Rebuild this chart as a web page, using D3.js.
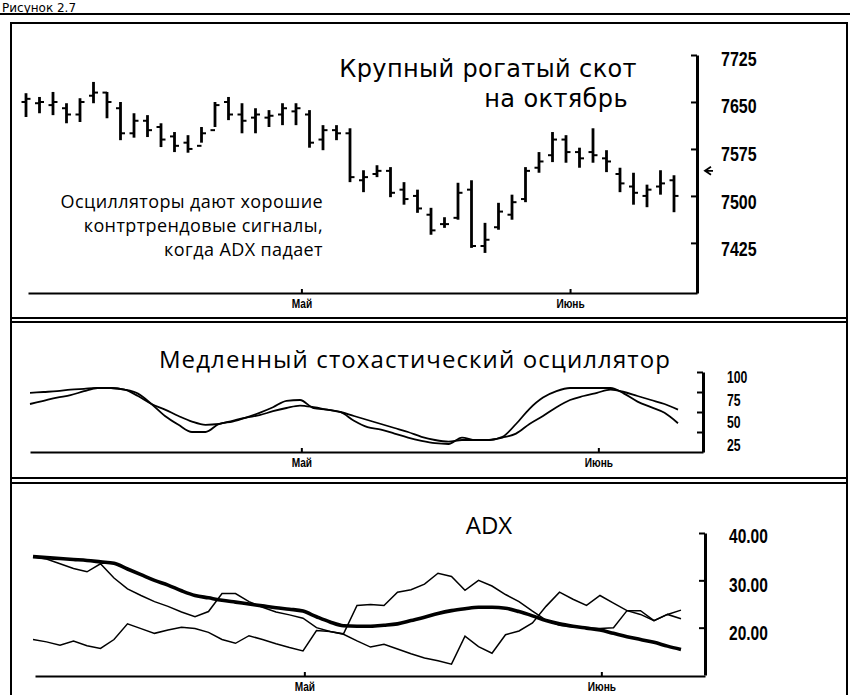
<!DOCTYPE html>
<html>
<head>
<meta charset="utf-8">
<script src="https://cdn.jsdelivr.net/npm/d3@7/dist/d3.min.js"></script>
<style>
body { margin: 0; background: #fff; }
svg { display: block; }
.title { font-family: "Open Sans", "Noto Sans", sans-serif; fill: #000; }
.num { font-family: "Liberation Sans", Arial, sans-serif; font-weight: bold; }
</style>
</head>
<body>
<div id="chart"></div>
<script>
// price bars (one per trading day)
var highs  = [7664,7658,7666,7648,7656,7682,7666,7650,7632,7629,7616,7602,7597,7610,7650,7658,7648,7640,7637,7648,7648,7637,7613,7613,7608,7541,7549,7546,7522,7510,7481,7466,7521,7525,7457,7489,7502,7546,7570,7602,7597,7577,7608,7573,7545,7537,7518,7541,7533];
var lows   = [7626,7632,7629,7616,7618,7648,7624,7589,7593,7594,7578,7570,7569,7585,7610,7621,7600,7600,7610,7613,7613,7577,7573,7589,7522,7506,7530,7498,7486,7473,7438,7449,7462,7417,7409,7446,7462,7490,7537,7554,7553,7545,7553,7538,7506,7486,7482,7502,7474];
var opens  = [7650,7648,7645,7640,7630,7660,7665,7640,7600,7620,7610,7595,7585,7580,7605,7650,7630,7625,7625,7630,7635,7630,7590,7605,7600,7525,7535,7540,7510,7500,7470,7455,7465,7510,7420,7450,7470,7495,7545,7565,7590,7570,7570,7560,7535,7515,7500,7515,7525];
var closes = [7655,7650,7650,7630,7650,7665,7650,7600,7620,7605,7590,7580,7575,7600,7645,7630,7620,7630,7628,7640,7640,7585,7605,7600,7530,7530,7540,7505,7495,7480,7445,7455,7505,7420,7430,7475,7490,7540,7555,7590,7570,7560,7565,7555,7520,7505,7510,7520,7500];
var priceTicks = [7425, 7500, 7575, 7650, 7725];
var lastPrice = 7540;

// slow stochastic
var stochK = [60,64,68,71,76,80,80,78,73,60,45,34,25,25,35,38,43,49,56,64,65,55,53,50,39,31,28,23,18,14,11,10,18,15,15,19,35,54,68,76,80,80,80,80,73,63,56,49,36];
var stochD = [74,75,76,78,79,80,80,78,70,60,53,45,38,34,35,39,43,46,51,55,58,56,53,50,45,40,35,30,25,19,15,13,15,15,15,18,23,35,45,56,65,70,74,78,75,70,65,60,53];
var stochTicks = [25, 50, 75, 100];

// ADX and directional lines
var adx     = [35.0,34.8,34.6,34.4,34.2,33.9,33.6,32.4,31.2,30.0,29.0,27.8,26.8,26.3,25.8,25.4,25.0,24.6,24.2,23.9,23.5,22.3,21.2,20.4,20.3,20.3,20.5,20.8,21.5,22.2,23.0,23.6,24.0,24.3,24.3,24.1,23.4,22.5,21.5,20.8,20.3,19.9,19.5,18.8,18.1,17.5,16.9,16.1,15.4];
var diMinus = [35.0,34.5,33.5,32.5,31.8,33.5,30.5,28.2,26.8,25.5,24.5,23.3,22.3,23.4,27.2,27.2,25.5,24.3,23.3,22.7,22.0,20.0,19.2,18.6,17.2,15.9,16.5,15.5,14.5,13.6,13.0,12.3,18.2,16.0,14.6,18.5,19.3,21.0,24.5,27.5,26.0,24.7,26.8,25.2,23.6,22.8,21.5,22.8,21.9];
var diPlus  = [17.5,17.0,16.3,17.2,16.2,15.6,17.5,20.8,19.8,18.8,19.5,20.1,19.8,19.0,17.5,16.7,18.3,17.5,16.6,15.8,15.1,19.4,19.2,18.7,24.7,24.9,24.7,27.5,28.0,29.2,31.5,30.8,27.9,30.0,28.8,27.0,25.5,23.5,21.6,20.5,20.2,20.0,19.8,20.0,23.6,23.6,21.5,22.8,23.7];
var adxTicks = [20, 30, 40];

// month labels, placed by bar index in each panel
var monthNames = ["Май", "Июнь"];
var priceMonthIdx = [20.4, 40.3];
var stochMonthIdx = [20.1, 42.1];
var adxMonthIdx   = [20.1, 42.1];

var W = 850, H = 695;
var svg = d3.select("#chart").append("svg")
    .attr("width", W)
    .attr("height", H);

// page header and frame
svg.append("text")
    .attr("x", 2).attr("y", 11.5)
    .style("font-family", "'DejaVu Sans', sans-serif")
    .style("font-size", "12px")
    .text("Рисунок 2.7");
svg.append("line").attr("x1", 0).attr("x2", W).attr("y1", 14).attr("y2", 14)
    .attr("stroke", "#000").attr("stroke-width", 2);
svg.append("path")
    .attr("d", "M11,700V23H847V700")
    .attr("fill", "none").attr("stroke", "#000").attr("stroke-width", 2);

// double separator lines between panels
[318, 322, 478, 483].forEach(function (yy) {
    svg.append("line").attr("x1", 11).attr("x2", 847).attr("y1", yy).attr("y2", yy)
        .attr("stroke", "#000").attr("stroke-width", 2);
});

var idx = d3.range(highs.length);

function bottomAxis(x, left, right, yPos, monthIdx) {
    var xa = x.copy().domain([x.invert(left), x.invert(right)]).range([left, right]);
    var g = svg.append("g")
        .attr("transform", "translate(0," + yPos + ")")
        .call(d3.axisBottom(xa)
            .tickValues(monthIdx)
            .tickFormat(function (d, i) { return monthNames[i]; })
            .tickSizeInner(-4).tickSizeOuter(0).tickPadding(6));
    g.select(".domain").attr("stroke-width", 2);
    g.selectAll(".tick line").attr("stroke-width", 2);
    g.selectAll(".tick text")
        .attr("class", "num")
        .style("font-size", "13px")
        .attr("fill", "#000")
        .attr("transform", "scale(0.78,1)");
}

// labels of these scans sit a little below their ticks, more so lower down
function rightAxis(y, xPos, ticks, fmt, size, sx, shift, step) {
    var g = svg.append("g")
        .attr("transform", "translate(" + xPos + ",0)")
        .call(d3.axisRight(y)
            .tickValues(ticks)
            .tickFormat(fmt)
            .tickSizeInner(-6).tickSizeOuter(0));
    g.select(".domain").attr("stroke-width", 3);
    g.selectAll(".tick line").attr("stroke-width", 2);
    var n = ticks.length;
    g.selectAll(".tick text")
        .attr("class", "num")
        .style("font-size", size + "px")
        .attr("fill", "#000")
        .attr("x", 0)
        .attr("transform", function (d, i) {
            return "translate(24," + (shift + (n - 1 - i) * step) + ") scale(" + sx + ",1)";
        });
}

// ---------- price panel ----------
var xP = d3.scaleLinear().domain([0, 48]).range([26, 674]);
var yP = d3.scaleLinear().domain([7345, 7725]).range([293, 55]);

var bars = svg.append("g").selectAll("g")
    .data(idx).enter().append("g");
bars.append("line")
    .attr("x1", function (i) { return xP(i); })
    .attr("x2", function (i) { return xP(i); })
    .attr("y1", function (i) { return yP(highs[i]); })
    .attr("y2", function (i) { return yP(lows[i]); })
    .attr("stroke", "#000").attr("stroke-width", 2.8);
bars.append("line")
    .attr("x1", function (i) { return xP(i) - 4.5; })
    .attr("x2", function (i) { return xP(i); })
    .attr("y1", function (i) { return yP(opens[i]); })
    .attr("y2", function (i) { return yP(opens[i]); })
    .attr("stroke", "#000").attr("stroke-width", 2);
bars.append("line")
    .attr("x1", function (i) { return xP(i); })
    .attr("x2", function (i) { return xP(i) + 4.5; })
    .attr("y1", function (i) { return yP(closes[i]); })
    .attr("y2", function (i) { return yP(closes[i]); })
    .attr("stroke", "#000").attr("stroke-width", 2);

bottomAxis(xP, 28, 697, 293, priceMonthIdx);
rightAxis(yP, 697, priceTicks, d3.format("d"), 20, 0.8, 4, 0.6);

// last-price arrow next to the axis
var lastY = yP(lastPrice);
svg.append("path")
    .attr("d", "M711," + (lastY - 4) + "L705," + lastY + "L711," + (lastY + 4) + "M705," + lastY + "H713")
    .attr("fill", "none").attr("stroke", "#000").attr("stroke-width", 1.8);

// two-line title; DejaVu has a compact line box so the lines stay clear
var titleLines = ["Крупный рогатый скот", "на октябрь"];
svg.append("g").selectAll("text")
    .data(titleLines).enter().append("text")
    .attr("text-anchor", "end")
    .attr("x", function (d, i) { return i ? 628 : 637; })
    .attr("y", function (d, i) { return i ? 107 : 77; })
    .style("font-family", "'DejaVu Sans', sans-serif")
    .style("font-size", "24px")
    .style("letter-spacing", "0.4px")
    .text(function (d) { return d; });

var note = ["Осцилляторы дают хорошие", "контртрендовые сигналы,", "когда ADX падает"];
var t2 = svg.append("text").attr("class", "title")
    .attr("text-anchor", "end")
    .style("font-size", "18px")
    .style("letter-spacing", "0.4px");
t2.selectAll("tspan")
    .data(note).enter().append("tspan")
    .attr("x", 323)
    .attr("y", function (d, i) { return 208 + i * 24; })
    .text(function (d) { return d; });

// ---------- stochastic panel ----------
var xS = d3.scaleLinear().domain([0, 48]).range([30, 678]);
var yS = d3.scaleLinear().domain([0, 100]).range([452, 372]);
var stochLine = d3.line()
    .x(function (d, i) { return xS(i); })
    .y(function (d) { return yS(d); })
    .curve(d3.curveMonotoneX);
svg.append("path").datum(stochK)
    .attr("d", stochLine)
    .attr("fill", "none").attr("stroke", "#000").attr("stroke-width", 1.8);
svg.append("path").datum(stochD)
    .attr("d", stochLine)
    .attr("fill", "none").attr("stroke", "#000").attr("stroke-width", 1.8);

bottomAxis(xS, 30, 703, 452, stochMonthIdx);
rightAxis(yS, 703, stochTicks, d3.format("d"), 17, 0.72, 5, 2.7);

svg.append("text").attr("class", "title")
    .attr("x", 415).attr("y", 368).attr("text-anchor", "middle")
    .style("font-size", "24px")
    .style("letter-spacing", "1.1px")
    .text("Медленный стохастический осциллятор");

// ---------- ADX panel ----------
var xA = d3.scaleLinear().domain([0, 48]).range([33, 681]);
var yA = d3.scaleLinear().domain([10, 40]).range([675, 533]);
var adxLine = d3.line()
    .x(function (d, i) { return xA(i); })
    .y(function (d) { return yA(d); });
svg.append("path").datum(diMinus)
    .attr("d", adxLine)
    .attr("fill", "none").attr("stroke", "#000").attr("stroke-width", 1.5);
svg.append("path").datum(diPlus)
    .attr("d", adxLine)
    .attr("fill", "none").attr("stroke", "#000").attr("stroke-width", 1.5);
svg.append("path").datum(adx)
    .attr("d", adxLine.curve(d3.curveMonotoneX))
    .attr("fill", "none").attr("stroke", "#000").attr("stroke-width", 3.6);

bottomAxis(xA, 35, 705, 676, adxMonthIdx);
rightAxis(yA, 705, adxTicks, d3.format(".2f"), 21, 0.74, 3, 1);

svg.append("text").attr("class", "title")
    .attr("x", 489).attr("y", 534).attr("text-anchor", "middle")
    .style("font-size", "24px")
    .text("ADX");
</script>
</body>
</html>
